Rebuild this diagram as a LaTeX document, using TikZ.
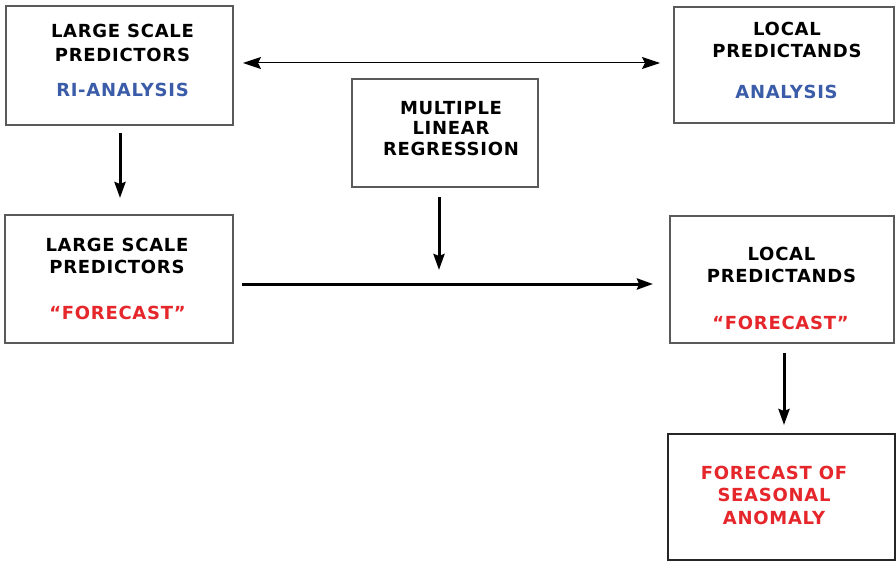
\documentclass[tikz,border=0pt]{standalone}
\usepackage{fontspec}
\setmainfont{DejaVu Sans}[LetterSpace=4]
\usetikzlibrary{arrows.meta,calc}
\definecolor{tblue}{HTML}{3B5CA8}
\definecolor{tred}{HTML}{E5262B}
\definecolor{bordergray}{HTML}{5A5A5A}
\begin{document}
\begin{tikzpicture}[x=1pt,y=-1pt,
  box/.style={draw=bordergray,line width=1.4pt,inner sep=0pt,outer sep=0pt,rectangle},
  lbl/.style={font=\fontsize{18}{22}\selectfont\bfseries,align=center,inner sep=0pt},
  thinarr/.style={line width=1pt,{Stealth[length=18pt,width=12pt,inset=3pt]}-{Stealth[length=18pt,width=12pt,inset=3pt]}},
  thickarr/.style={line width=3pt,-{Stealth[length=16pt,width=11pt,inset=2pt]}}]
\useasboundingbox (0,0) rectangle (896,561);
\fill[white] (0,0) rectangle (896,561);
% boxes
\node[box,minimum width=227pt,minimum height=119pt] (b1) at (119.5,65.5) {};
\node[box,minimum width=220pt,minimum height=116pt] (b2) at (784,65) {};
\node[box,minimum width=186pt,minimum height=108pt] (b3) at (445,133) {};
\node[box,minimum width=228pt,minimum height=128pt] (b4) at (119,279) {};
\node[box,minimum width=224pt,minimum height=127pt] (b5) at (782,279.5) {};
\node[box,draw=black!85,line width=1.9pt,minimum width=227pt,minimum height=126pt] (b6) at (781.5,497) {};
% texts
\node[lbl,font=\fontsize{18}{24}\selectfont\bfseries] (t1) at (122.5,43.25) {LARGE SCALE\\PREDICTORS};
\node[lbl,text=tblue] (t1c) at (122.5,90) {RI-ANALYSIS};
\node[lbl] (t2) at (787,39.5) {LOCAL\\PREDICTANDS};
\node[lbl,text=tblue] (t2c) at (786.5,92) {ANALYSIS};
\node[lbl,font=\fontsize{18}{20.5}\selectfont\bfseries] (t3) at (451,128.25) {MULTIPLE\\LINEAR\\REGRESSION};
\node[lbl] (t4) at (117,256.25) {LARGE SCALE\\PREDICTORS};
\node[lbl,text=tred] (t4c) at (117.5,312.5) {“FORECAST”};
\node[lbl] (t5) at (781.5,264.75) {LOCAL\\PREDICTANDS};
\node[lbl,text=tred] (t5c) at (780.5,323) {“FORECAST”};
\node[lbl,text=tred,font=\fontsize{18}{22.5}\selectfont\bfseries] (t6) at (774,495) {FORECAST OF\\SEASONAL\\ANOMALY};
% connectors
\coordinate (m) at (439,270);
\draw[thinarr,shorten <=10pt,shorten >=14pt] ([yshift=2.5pt]b1.east) -- ([yshift=2pt]b2.west);
\draw[thickarr,shorten <=8pt,shorten >=17pt] ([xshift=0.5pt]b1.south) -- ([xshift=1pt]b4.north);
\draw[thickarr,shorten <=10pt] ([xshift=-6pt]b3.south) -- (m);
\draw[thickarr,shorten <=9pt,shorten >=17pt] ([yshift=-5pt]b4.east) -- ([yshift=-4.5pt]b5.west);
\draw[thickarr,shorten <=10pt,shorten >=9pt] ([xshift=2pt]b5.south) -- ([xshift=2.5pt]b6.north);
\end{tikzpicture}
\end{document}
